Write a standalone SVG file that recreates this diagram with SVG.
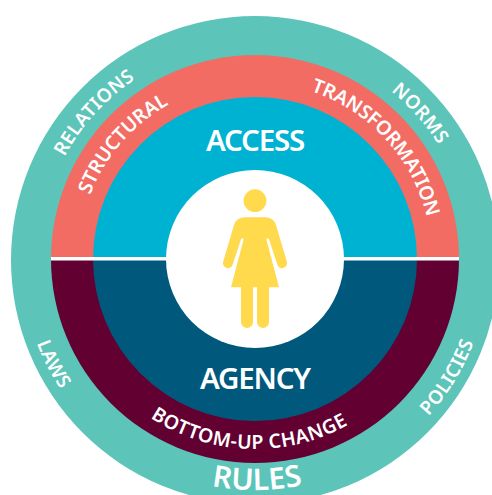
<svg xmlns="http://www.w3.org/2000/svg" width="492" height="495" viewBox="0 0 492 495">
<style>
text{font-family:"Noto Sans","Open Sans","Liberation Sans",sans-serif;fill:#fff;font-weight:600;text-anchor:middle}
.o{font-size:19px;letter-spacing:.35px}.m{font-size:19.500px;letter-spacing:-.1px}.u{font-size:19.500px;letter-spacing:.4px}.big{font-size:29.500px;letter-spacing:-1.200px}.r{font-size:30px;letter-spacing:.1px}
</style>
<defs>
<path id="t216" d="M39 259A216 216 0 0 1 471 259"/>
<path id="t177" d="M78 259A177 177 0 0 1 432 259"/>
<path id="b234" d="M21 259A234 234 0 0 0 489 259"/>
<path id="b190" d="M65 259A190 190 0 0 0 445 259"/>
<path id="b232" d="M24 259A231 231 0 0 0 486 259"/>
</defs>
<rect width="492" height="495" fill="#fff"/>
<g id="rules-ring">
<circle cx="255" cy="260" r="244" fill="#5cc4b9"/>
<text class="o"><textPath href="#t216" startOffset="23.5%">RELATIONS</textPath></text>
<text class="o"><textPath href="#t216" startOffset="77%">NORMS</textPath></text>
<text class="o"><textPath href="#b234" startOffset="15.3%">LAWS</textPath></text>
<text class="o"><textPath href="#b234" startOffset="82.5%">POLICIES</textPath></text>
<text class="r"><textPath href="#b232" startOffset="50.3%">RULES</textPath></text>
</g>
<g id="structural-ring">
<path d="M51 259A204 204 0 0 1 459 259Z" fill="#f26c64"/>
<text class="m"><textPath href="#t177" startOffset="22.8%">STRUCTURAL</textPath></text>
<text class="m"><textPath href="#t177" startOffset="76.3%">TRANSFORMATION</textPath></text>
</g>
<g id="bottom-up-ring">
<path d="M51 259A204 204 0 0 0 459 259Z" fill="#620032"/>
<text class="u"><textPath href="#b190" startOffset="48.9%">BOTTOM-UP CHANGE</textPath></text>
</g>
<g id="access">
<path d="M93 259A162 162 0 0 1 417 259Z" fill="#00b2d2"/>
<text class="big" x="255" y="151">ACCESS</text>
</g>
<g id="agency">
<path d="M93 259A162 162 0 0 0 417 259Z" fill="#00597c"/>
<text class="big" x="255" y="389">AGENCY</text>
</g>
<g id="divider">
<line x1="51" y1="258.700" x2="459" y2="258.700" stroke="#fff" stroke-width="3.600"/>
</g>
<g id="centre">
<circle cx="255" cy="259" r="89" fill="#fff"/>
<circle cx="255" cy="200.700" r="11.400" fill="#ffda4d"/>
<path fill="#ffda4d" d="M245 217.300H265Q273.500 217.300 276 225L286.800 261.500A4.900 4.900 0 0 1 277.400 264.800L268.900 239A1.300 1.300 0 0 0 266.400 239.500L279 287.300H269V322A6 6 0 0 1 257 322V287.300H253V322A6 6 0 0 1 241 322V287.300H231L243.600 239.500A1.300 1.300 0 0 0 241.100 239L232.600 264.800A4.900 4.900 0 0 1 223.200 261.500L234 225Q236.500 217.300 245 217.300Z"/>
</g>
</svg>
